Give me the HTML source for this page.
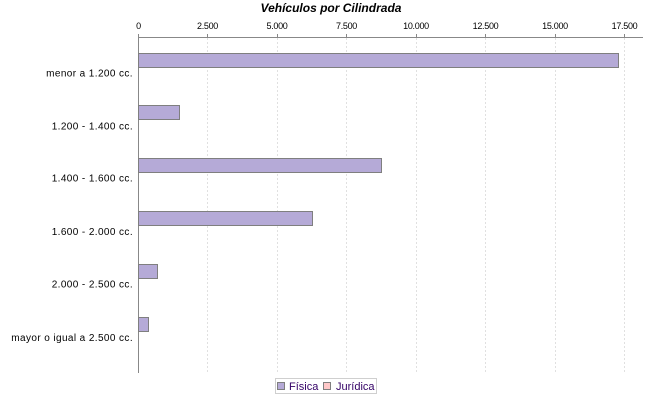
<!DOCTYPE html>
<html><head><meta charset="utf-8"><style>
html,body{margin:0;padding:0;background:#fff;}
svg{display:block;}
</style></head><body>
<svg width="650" height="400" viewBox="0 0 650 400" xmlns="http://www.w3.org/2000/svg">
<rect width="650" height="400" fill="#fff"/>
<text x="331" y="12" text-anchor="middle" font-family="Liberation Sans, sans-serif" font-size="12" font-weight="bold" font-style="italic" fill="#000">Vehículos por Cilindrada</text>
<g stroke="#e0e0e0" stroke-width="1" stroke-dasharray="2,2">
<line x1="207.5" y1="38" x2="207.5" y2="373"/>
<line x1="277.5" y1="38" x2="277.5" y2="373"/>
<line x1="346.5" y1="38" x2="346.5" y2="373"/>
<line x1="416.5" y1="38" x2="416.5" y2="373"/>
<line x1="485.5" y1="38" x2="485.5" y2="373"/>
<line x1="555.5" y1="38" x2="555.5" y2="373"/>
<line x1="624.5" y1="38" x2="624.5" y2="373"/>
</g>
<g stroke="#888" stroke-width="1">
<line x1="138.5" y1="37" x2="138.5" y2="373"/>
<line x1="138" y1="37.5" x2="643" y2="37.5"/>
<line x1="138.5" y1="34" x2="138.5" y2="37"/>
<line x1="207.5" y1="34" x2="207.5" y2="37"/>
<line x1="277.5" y1="34" x2="277.5" y2="37"/>
<line x1="346.5" y1="34" x2="346.5" y2="37"/>
<line x1="416.5" y1="34" x2="416.5" y2="37"/>
<line x1="485.5" y1="34" x2="485.5" y2="37"/>
<line x1="555.5" y1="34" x2="555.5" y2="37"/>
<line x1="624.5" y1="34" x2="624.5" y2="37"/>
</g>
<g font-family="Liberation Sans, sans-serif" font-size="9" fill="#000" text-anchor="middle" letter-spacing="-0.3">
<text x="138.5" y="29">0</text>
<text x="207.5" y="29">2.500</text>
<text x="277" y="29">5.000</text>
<text x="346.5" y="29">7.500</text>
<text x="416" y="29">10.000</text>
<text x="485.5" y="29">12.500</text>
<text x="555" y="29">15.000</text>
<text x="624.5" y="29">17.500</text>
</g>
<g fill="#b5aad7" stroke="#7f7f7f" stroke-width="1">
<rect x="138.5" y="53.5" width="480" height="14"/>
<rect x="138.5" y="105.5" width="41" height="14"/>
<rect x="138.5" y="158.5" width="243" height="14"/>
<rect x="138.5" y="211.5" width="174" height="14"/>
<rect x="138.5" y="264.5" width="19" height="14"/>
<rect x="138.5" y="317.5" width="10" height="14"/>
</g>
<g font-family="Liberation Sans, sans-serif" font-size="10" fill="#000" text-anchor="end" letter-spacing="0.4">
<text x="133" y="76.5">menor a 1.200 cc.</text>
<text x="133" y="129.5">1.200 - 1.400 cc.</text>
<text x="133" y="181.5">1.400 - 1.600 cc.</text>
<text x="133" y="235">1.600 - 2.000 cc.</text>
<text x="133" y="287.5">2.000 - 2.500 cc.</text>
<text x="133" y="341">mayor o igual a 2.500 cc.</text>
</g>
<rect x="275.5" y="378.5" width="101" height="15" fill="#fff" stroke="#cfcfcf" stroke-width="1"/>
<rect x="277.5" y="382.5" width="7" height="7" fill="#b5aad7" stroke="#7f7f7f" stroke-width="1"/>
<rect x="323.5" y="382.5" width="7" height="7" fill="#ffc8c8" stroke="#7f7f7f" stroke-width="1"/>
<g font-family="Liberation Sans, sans-serif" font-size="11" fill="#330066">
<text x="289" y="390">Física</text>
<text x="336" y="390">Jurídica</text>
</g>
</svg>
</body></html>
